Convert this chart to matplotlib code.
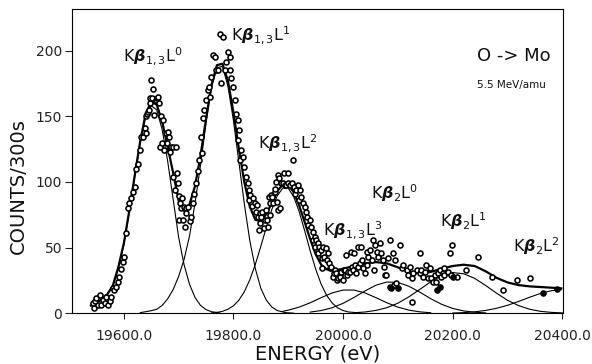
import matplotlib
matplotlib.use("Agg")
import matplotlib.pyplot as plt

energy = [19543, 19546, 19548, 19550, 19553, 19556, 19559, 19562, 19565, 19568,
          19571, 19574, 19577, 19580, 19583, 19586, 19589, 19592, 19595, 19598,
          19601, 19604, 19607, 19610, 19613, 19616, 19620, 19622, 19626, 19629,
          19632, 19635, 19638, 19640, 19641, 19643, 19644, 19646, 19647, 19648,
          19650, 19652, 19653, 19656, 19659, 19660, 19662, 19665, 19666, 19668,
          19669, 19671, 19674, 19677, 19678, 19680, 19683, 19684, 19686, 19689,
          19690, 19694, 19696, 19697, 19699, 19700, 19701, 19703, 19705, 19707,
          19708, 19710, 19711, 19713, 19714, 19717, 19720, 19723, 19726, 19729,
          19732, 19735, 19738, 19741, 19743, 19744, 19747, 19750, 19753, 19756,
          19758, 19760, 19763, 19766, 19768, 19772, 19775, 19778, 19781, 19784,
          19787, 19790, 19793, 19794, 19796, 19799, 19802, 19805, 19808, 19809,
          19811, 19812, 19814, 19817, 19820, 19823, 19826, 19828, 19829, 19831,
          19833, 19836, 19839, 19842, 19843, 19845, 19846, 19848, 19849, 19851,
          19853, 19855, 19857, 19860, 19861, 19863, 19864, 19866, 19867, 19869,
          19870, 19872, 19875, 19876, 19878, 19879, 19881, 19882, 19884, 19885,
          19887, 19890, 19893, 19894, 19896, 19899, 19900, 19903, 19906, 19909,
          19911, 19913, 19915, 19918, 19919, 19921, 19924, 19927, 19930, 19933,
          19935, 19936, 19939, 19942, 19945, 19946, 19948, 19949, 19951, 19954,
          19955, 19957, 19960, 19961, 19962, 19963, 19966, 19969, 19970, 19972,
          19975, 19976, 19978, 19982, 19983, 19985, 19988, 19989, 19991, 19994,
          19995, 19997, 20000, 20001, 20003, 20006, 20007, 20009, 20012, 20015,
          20016, 20018, 20020, 20021, 20024, 20027, 20028, 20030, 20033, 20034,
          20037, 20040, 20043, 20044, 20046, 20049, 20052, 20055, 20056, 20058,
          20061, 20064, 20067, 20070, 20073, 20074, 20076, 20079, 20082, 20085,
          20086, 20091, 20092, 20094, 20097, 20104, 20107, 20110, 20116, 20119,
          20122, 20125, 20126, 20128, 20134, 20140, 20141, 20143, 20146, 20149,
          20152, 20154, 20158, 20161, 20164, 20167, 20170, 20173, 20177, 20179,
          20182, 20184, 20185, 20191, 20195, 20196, 20198, 20207, 20225, 20247,
          20271, 20292, 20317, 20341]
counts = [7.6, 3.8, 9, 11.4, 6, 14, 6.3, 10, 8, 12.6,
          6.3, 9, 12.6, 19, 17.7, 20, 24, 28, 34, 39,
          43, 61, 80, 84, 88, 92, 96, 110, 114, 124,
          134.5, 134, 141, 137, 150, 152, 153.5, 155, 160, 164,
          178, 164, 171, 151, 162.5, 164, 165, 160, 127, 150,
          129.5, 147, 124, 137, 129.5, 138, 134.5, 123, 127, 127,
          104, 94, 127, 106.6, 99, 71, 89, 84, 80, 87.6,
          71, 81, 66, 80, 76, 81, 70, 73.6, 84, 91,
          99, 108, 117, 134.5, 122, 148.5, 155, 162.5, 170, 172.6,
          165, 180, 197, 195.5, 185, 185, 213, 175, 210.7, 185,
          191.6, 199, 195.5, 185, 179, 172.6, 162.5, 152, 147, 132,
          139.6, 117, 124, 119, 111.6, 104, 99, 86, 94, 90,
          82, 88, 84, 77, 82.5, 73.6, 63.4, 76, 68.5, 73.6,
          77, 64.7, 71, 78.7, 71, 66, 88.8, 84, 75, 90,
          88.8, 84, 92.6, 95, 100, 85, 105, 78.7, 103, 80,
          99, 99, 106.6, 97.7, 97.7, 99, 107, 97.7, 99, 117,
          96.5, 91, 94, 97.7, 86.3, 94, 88.8, 84, 81, 77,
          73.6, 67, 71, 66, 62, 55.8, 58.3, 50.7, 55.8, 53.3,
          45.7, 50.7, 48.2, 41.9, 34.3, 50.7, 43.1, 49.5, 40.6, 45.7,
          38, 34.3, 35.5, 27.9, 30.5, 33, 30.5, 25.4, 26.7, 29.2,
          27.9, 31.7, 25.4, 33, 33, 44.4, 29.2, 31.7, 31.7, 47,
          35.5, 33, 45.7, 36.8, 31, 50.7, 35.5, 38, 50.7, 40.6,
          34.3, 30.5, 36.8, 47, 43, 48.2, 40.6, 55.8, 33, 52,
          47, 43, 53.3, 45.7, 40.6, 35.5, 29.2, 29.2, 41.9, 55.8,
          20.3, 45.7, 21.6, 40.6, 22.8, 52, 34.3, 36.8, 33, 29.2,
          35.5, 26.7, 8.9, 30.5, 33, 45.7, 30.5, 33, 27.9, 31.7,
          36.8, 26.7, 34.3, 26.7, 24, 29.2, 24, 30.5, 33, 27.9,
          30.5, 29.2, 34.3, 31.7, 45.7, 29.2, 52, 27.9, 33, 43,
          27.9, 17.7, 25.4, 26.7]

# points drawn solid
energy_solid = [20088, 20100, 20171, 20176, 20201, 20364, 20390]
counts_solid = [19, 19, 17.7, 20.3, 27.9, 15.2, 18.3]

# total fit
fit_e = [19540, 19550, 19560, 19570, 19580, 19590, 19600, 19610, 19620, 19630,
         19640, 19650, 19660, 19670, 19680, 19690, 19700, 19710, 19720, 19730,
         19740, 19750, 19760, 19770, 19780, 19790, 19800, 19810, 19820, 19830,
         19840, 19850, 19860, 19870, 19880, 19890, 19900, 19910, 19920, 19930,
         19940, 19950, 19960, 19970, 19980, 19990, 20000, 20020, 20040, 20060,
         20080, 20100, 20120, 20140, 20160, 20180, 20200, 20220, 20240, 20260,
         20280, 20300, 20320, 20340, 20360, 20380, 20398]
fit_c = [6, 8, 10.5, 14.5, 21, 35, 53, 78, 105, 131,
         152, 161, 159, 146, 127, 107, 86, 78, 83, 97,
         120, 148, 174, 189, 190, 177, 153, 125, 99.6, 81,
         71.2, 70.1, 75.5, 84, 93, 98, 97.6, 92.3, 82, 69.4,
         56.5, 45, 37, 33.5, 32.5, 33, 34, 36, 38, 39,
         38, 35, 31.5, 30.5, 31.5, 34, 36, 37, 36, 32,
         27, 23.5, 21.5, 20.5, 20, 19.5, 19]

# single line components
b13_l0_e = [19540, 19550, 19560, 19570, 19580, 19590, 19600, 19610, 19620, 19630,
            19640, 19650, 19660, 19670, 19680, 19690, 19700, 19710, 19720, 19730,
            19740, 19750, 19760, 19775]
b13_l0_c = [5.5, 8, 10.5, 14.5, 21, 34, 52, 77, 104, 130,
            150, 158, 155, 140, 116, 87, 58, 37, 22, 12,
            6, 2.8, 1.2, 0.3]
b13_l1_e = [19630, 19640, 19650, 19660, 19670, 19680, 19690, 19700, 19710, 19720,
            19730, 19740, 19750, 19760, 19770, 19780, 19790, 19800, 19810, 19820,
            19830, 19840, 19850, 19860, 19870, 19880, 19895, 19910]
b13_l1_c = [0.5, 1.2, 2, 3, 6, 11, 18, 28, 41, 59,
            84, 113, 145, 172, 187, 188, 173, 147, 115, 83,
            55, 34, 19, 10, 4.8, 2.1, 0.5, 0.1]
b13_l2_e = [19760, 19770, 19780, 19790, 19800, 19810, 19820, 19830, 19840, 19850,
            19860, 19870, 19880, 19890, 19900, 19910, 19920, 19930, 19940, 19950,
            19960, 19970, 19980, 19990, 20000, 20010, 20030]
b13_l2_c = [0.3, 0.7, 1.5, 3.1, 5.7, 10, 16.5, 25.6, 37.3, 51,
            65.5, 79, 89.5, 95.3, 95.2, 88.8, 77.3, 62.8, 47.6, 33.7,
            22.2, 13.7, 7.9, 4.2, 2.1, 1.0, 0.3]
b13_l3_e = [19890, 19900, 19920, 19940, 19960, 19980, 20000, 20020, 20040, 20060,
            20080, 20100, 20120, 20140, 20160]
b13_l3_c = [1.5, 2.4, 4.7, 8, 11.9, 15.5, 17.7, 17.7, 15.5, 11.9,
            8, 4.7, 2.4, 1.1, 0.4]
b2_l0_e = [19940, 19960, 19980, 20000, 20020, 20040, 20060, 20080, 20100, 20120,
           20140, 20160, 20180, 20200, 20220, 20240, 20260]
b2_l0_c = [0.9, 2.1, 4.2, 7.6, 12.1, 17, 21.4, 23.8, 23.5, 20.6,
           16.1, 11.1, 6.8, 3.7, 1.8, 0.8, 0.3]
b2_l1_e = [20020, 20040, 20060, 20080, 20100, 20120, 20140, 20160, 20180, 20200,
           20220, 20240, 20260, 20280, 20300, 20320, 20340, 20360, 20380, 20400]
b2_l1_c = [0.4, 1, 2.2, 4.3, 7.7, 12.5, 18.2, 24, 28.7, 31,
           30.1, 26.6, 21.2, 15.3, 9.9, 5.9, 3.1, 1.5, 0.7, 0.3]
b2_l2_e = [20200, 20220, 20240, 20260, 20280, 20300, 20320, 20340, 20360, 20380, 20398]
b2_l2_c = [0.2, 0.5, 1.1, 2.2, 3.8, 6.1, 9, 12.2, 15.1, 17.2, 18]

xticks = [19600, 19800, 20000, 20200, 20400]
xticklabels = ["19600.0", "19800.0", "20000.0", "20200.0", "20400.0"]
yticks = [0, 50, 100, 150, 200]

fig = plt.figure(figsize=(5.92, 3.64), dpi=100)
ax = fig.add_axes([0.1211, 0.1393, 0.8307, 0.8352])

comps = [(b13_l0_e, b13_l0_c), (b13_l1_e, b13_l1_c), (b13_l2_e, b13_l2_c),
         (b13_l3_e, b13_l3_c), (b2_l0_e, b2_l0_c), (b2_l1_e, b2_l1_c),
         (b2_l2_e, b2_l2_c)]
for e, c in comps:
    ax.plot(e, c, color="black", lw=0.8)
ax.plot(fit_e, fit_c, color="black", lw=1.6)

ax.plot(energy, counts, "o", ms=3.6, mfc="white", mec="black", mew=1.15)
ax.plot(energy_solid, counts_solid, "o", ms=3.6, mfc="black", mec="black", mew=1.15)

ax.set_xlim(19505, 20402)
ax.set_ylim(0, 231.5)
ax.set_xticks(xticks)
ax.set_xticklabels(xticklabels)
ax.set_yticks(yticks)
ax.tick_params(axis="x", direction="out", length=4.5, width=0.8, pad=7, labelsize=10, colors="#222222")
ax.tick_params(axis="y", direction="out", length=5, width=0.8, pad=2, labelsize=10, colors="#222222")
for s in ax.spines.values():
    s.set_linewidth(0.8)

ax.set_xlabel("ENERGY (eV)", fontsize=14, labelpad=1, color="#111111")
fig.text(0.031, 0.49, "COUNTS/300s", rotation=90, fontsize=14, ha="center", va="center", color="#111111")

lab = dict(fontsize=11.5, ha="center", va="center", color="#111111")
ax.text(19654, 196, r"K$\boldsymbol{\beta}_{1,3}\mathrm{L}^{0}$", **lab)
ax.text(19850, 212, r"K$\boldsymbol{\beta}_{1,3}\mathrm{L}^{1}$", **lab)
ax.text(19899, 129.7, r"K$\boldsymbol{\beta}_{1,3}\mathrm{L}^{2}$", **lab)
ax.text(20018, 63.4, r"K$\boldsymbol{\beta}_{1,3}\mathrm{L}^{3}$", **lab)
ax.text(20094, 91.6, r"K$\boldsymbol{\beta}_{2}\mathrm{L}^{0}$", **lab)
ax.text(20220, 70.3, r"K$\boldsymbol{\beta}_{2}\mathrm{L}^{1}$", **lab)
ax.text(20352, 51.3, r"K$\boldsymbol{\beta}_{2}\mathrm{L}^{2}$", **lab)

ax.text(20244, 196, "O -> Mo", fontsize=13, ha="left", va="center", color="#111111")
ax.text(20244, 174, "5.5 MeV/amu", fontsize=7.5, ha="left", va="center", color="#111111")

fig.savefig("out.png", dpi=100)
